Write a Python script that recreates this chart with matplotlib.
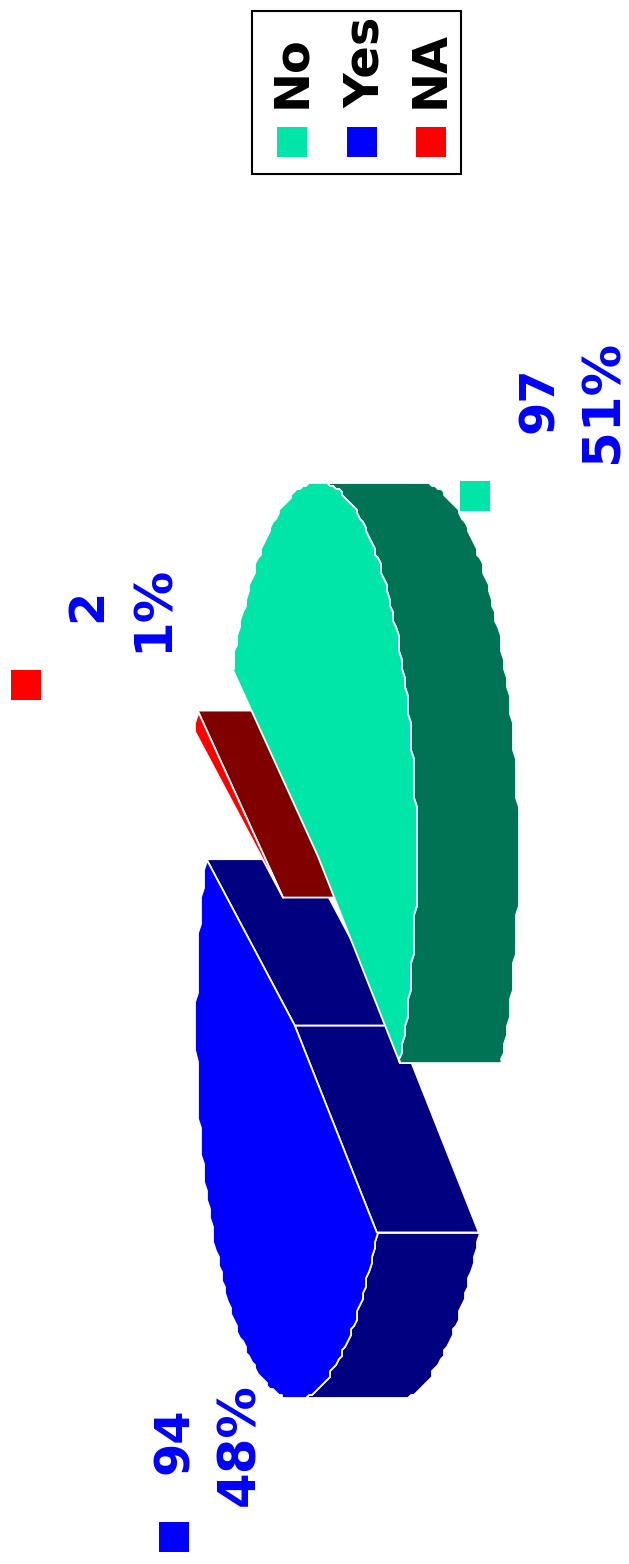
import numpy as np
import matplotlib
matplotlib.use("Agg")
import matplotlib.pyplot as plt
from matplotlib.patches import Polygon, Rectangle

# Legend order
categories = ["No", "Yes", "NA"]
counts = [97, 94, 2]
percents = [51, 48, 1]

# Slices are drawn back to front, starting from Yes
draw_order = ["Yes", "NA", "No"]

face_colors = {"No": "#00E6A8", "Yes": "#0000FF", "NA": "#FF0000"}
side_colors = {"No": "#007354", "Yes": "#000080", "NA": "#800000"}

# Pie geometry in pixels, the whole thing is turned 90 degrees
CX, CY = 306, 940
RX, RY = 98.5, 374
DEPTH = 102
START = 33.6
EXPLODE_X, EXPLODE_Y = 22.5, 98.7
explode_scale_x = {"No": 1.0, "Yes": 1.0, "NA": 1.16}
explode_scale_y = {"No": 1.0, "Yes": 1.0, "NA": 0.91}
STEP = 3  # the rim of the original is stair stepped
ARC_RES = 1.5

fig = plt.figure(figsize=(6.29, 15.64), dpi=100)
ax = fig.add_axes([0, 0, 1, 1])
ax.set_xlim(0, 629)
ax.set_ylim(1564, 0)
ax.axis("off")


def rim(cx, cy, t):
    a = np.radians(t)
    x = np.round((cx + RX * np.cos(a)) / STEP) * STEP
    y = np.round((cy + RY * np.sin(a)) / STEP) * STEP
    return np.column_stack([x, y])


def point(cx, cy, t):
    a = np.radians(t)
    return np.array([cx + RX * np.cos(a), cy + RY * np.sin(a)])


def add_poly(pts, color):
    ax.add_patch(Polygon(pts, closed=True, facecolor=color, edgecolor="white",
                         linewidth=1.3, joinstyle="round"))


angle = START
for name in draw_order:
    pct = percents[categories.index(name)]
    t0, t1 = angle, angle + pct * 3.6
    angle = t1
    mid = np.radians((t0 + t1) / 2)
    cx = CX + explode_scale_x[name] * EXPLODE_X * np.cos(mid)
    cy = CY + explode_scale_y[name] * EXPLODE_Y * np.sin(mid)
    center = np.array([cx, cy])
    shift = np.array([DEPTH, 0])

    # flat cut faces that look towards the viewer
    for t, visible in [(t0, np.sin(np.radians(t0)) > 0), (t1, np.sin(np.radians(t1)) < 0)]:
        if visible:
            p = point(cx, cy, t)
            add_poly([center, p, p + shift, center + shift], side_colors[name])

    # outer wall, only where the rim faces the viewer
    tt = np.arange(t0, t1, ARC_RES)
    arc = np.vstack([rim(cx, cy, tt), point(cx, cy, t1)])
    tt = np.append(tt, t1)
    wall = arc[np.cos(np.radians(tt)) > 0]
    if len(wall) > 1:
        add_poly(np.vstack([wall, (wall + shift)[::-1]]), side_colors[name])

    # top face
    add_poly(np.vstack([center, point(cx, cy, t0), arc]), face_colors[name])

# Value labels, text runs bottom to top
label_font = dict(family="DejaVu Sans", fontweight="bold", fontsize=34.5, rotation=90,
                  rotation_mode="anchor", ha="left", va="baseline")
pct_font = dict(label_font, fontsize=37)
count_pos = {"No": (553, 433), "NA": (101, 622), "Yes": (188, 1474)}
pct_pos = {"No": (618, 463), "NA": (168, 652), "Yes": (254, 1506)}
marker_pos = {"No": (460, 481), "NA": (11, 670), "Yes": (159, 1522)}

for name, cnt, pct in zip(categories, counts, percents):
    ax.text(*count_pos[name], str(cnt), color="#0000FF", **label_font)
    ax.text(*pct_pos[name], f"{pct}%", color="#0000FF", **pct_font)
    ax.add_patch(Rectangle(marker_pos[name], 30, 30, facecolor=face_colors[name], edgecolor="none"))

# Legend
ax.add_patch(Rectangle((252, 11), 209, 163, facecolor="white", edgecolor="black", linewidth=1.5))
legend_x = [277, 347, 416]
legend_text_x = [305, 379, 444]
for name, lx, tx in zip(categories, legend_x, legend_text_x):
    ax.add_patch(Rectangle((lx, 127), 29.5, 29.5, facecolor=face_colors[name], edgecolor="none"))
    ax.text(tx, 108, name, color="black", **label_font)

fig.savefig("out.png", dpi=100)
